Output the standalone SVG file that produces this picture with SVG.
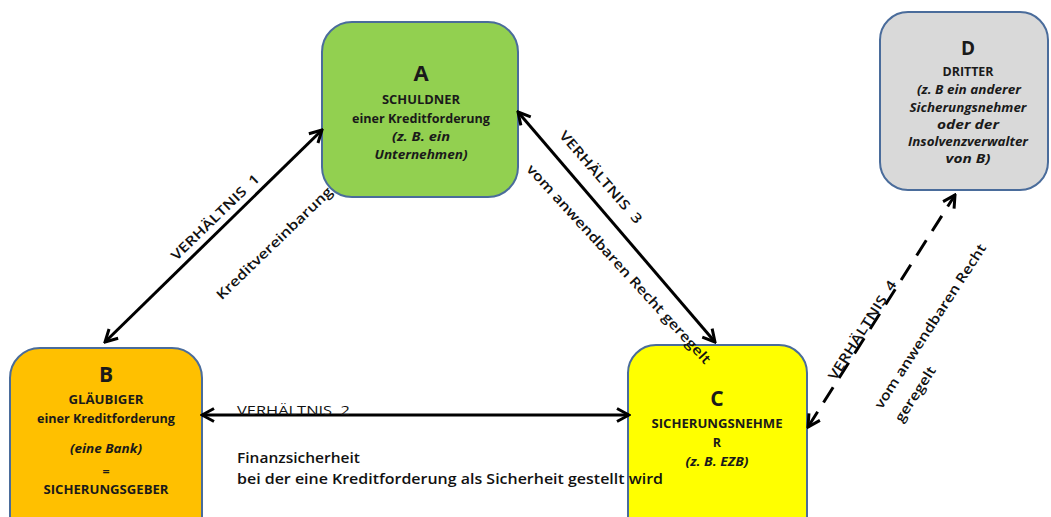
<svg xmlns="http://www.w3.org/2000/svg" width="1051" height="517" viewBox="0 0 1051 517">
<style>
.box{stroke:#4a6c9b;stroke-width:2}
.t{font-family:"Open Sans","Liberation Sans",sans-serif;font-weight:700;fill:#1a1a1a;text-anchor:middle}
.big{font-size:22px}
.s{font-size:12.5px}
.i{font-style:italic}
.conn{stroke:#000;stroke-width:3;fill:none}
.dash{stroke-dasharray:18 11}
.lbl{font-family:"Open Sans","Liberation Sans",sans-serif;fill:#111;font-size:13.5px}
.rl{font-weight:650;text-anchor:middle}
.hl{font-weight:600}
</style>
<defs>
<marker id="ah" viewBox="0 0 16 16" refX="14" refY="8" markerWidth="16" markerHeight="16" markerUnits="userSpaceOnUse" orient="auto-start-reverse">
<path d="M2,1.5 L14,8 L2,14.5" fill="none" stroke="#000" stroke-width="3"/>
</marker>
</defs>
<rect width="1051" height="517" fill="#fff"/>
<g id="nodeA">
<rect class="box" x="322" y="22" width="196" height="175" rx="30" fill="#92d050"/>
<text class="t big" x="421" y="81">A</text>
<text class="t s" x="421" y="104" textLength="78" lengthAdjust="spacingAndGlyphs">SCHULDNER</text>
<text class="t s" x="421" y="123" textLength="138" lengthAdjust="spacingAndGlyphs">einer Kreditforderung</text>
<text class="t s i" x="421" y="141" textLength="58" lengthAdjust="spacingAndGlyphs">(z. B. ein</text>
<text class="t s i" x="421" y="159" textLength="93" lengthAdjust="spacingAndGlyphs">Unternehmen)</text>
</g>
<g id="nodeD">
<rect class="box" x="880" y="12" width="168" height="178" rx="28" fill="#d9d9d9"/>
<text class="t" style="font-size:19px" x="968" y="55">D</text>
<text class="t s" x="968" y="76" textLength="51" lengthAdjust="spacingAndGlyphs">DRITTER</text>
<text class="t s i" x="969" y="94" textLength="104" lengthAdjust="spacingAndGlyphs">(z. B ein anderer</text>
<text class="t s i" x="968" y="112" textLength="117" lengthAdjust="spacingAndGlyphs">Sicherungsnehmer</text>
<text class="t s i" x="968" y="129" textLength="62" lengthAdjust="spacingAndGlyphs">oder der</text>
<text class="t s i" x="968" y="146" textLength="120" lengthAdjust="spacingAndGlyphs">Insolvenzverwalter</text>
<text class="t s i" x="968" y="163" textLength="45" lengthAdjust="spacingAndGlyphs">von B)</text>
</g>
<g id="nodeB">
<rect class="box" x="10" y="348" width="192" height="200" rx="30" fill="#ffc000"/>
<text class="t" style="font-size:21px" x="106" y="382">B</text>
<text class="t s" x="106" y="404" textLength="75" lengthAdjust="spacingAndGlyphs">GLÄUBIGER</text>
<text class="t s" x="106" y="423" textLength="138" lengthAdjust="spacingAndGlyphs">einer Kreditforderung</text>
<text class="t s i" x="106" y="453" textLength="72" lengthAdjust="spacingAndGlyphs">(eine Bank)</text>
<text class="t s" x="106" y="476">=</text>
<text class="t s" x="106" y="494" textLength="125" lengthAdjust="spacingAndGlyphs">SICHERUNGSGEBER</text>
</g>
<g id="nodeC">
<rect class="box" x="628" y="345" width="179" height="200" rx="28" fill="#ffff00"/>
<text class="t" style="font-size:21px" x="717" y="406">C</text>
<text class="t s" x="717" y="428" textLength="131" lengthAdjust="spacingAndGlyphs">SICHERUNGSNEHME</text>
<text class="t s" x="717" y="447">R</text>
<text class="t s i" x="717" y="466" textLength="63" lengthAdjust="spacingAndGlyphs">(z. B. EZB)</text>
</g>
<g id="connectors">
<line class="conn" x1="105" y1="342" x2="322" y2="130" marker-start="url(#ah)" marker-end="url(#ah)"/>
<line class="conn" x1="518" y1="112" x2="715" y2="342" marker-start="url(#ah)" marker-end="url(#ah)"/>
<line class="conn" x1="202" y1="415" x2="629" y2="415" marker-start="url(#ah)" marker-end="url(#ah)"/>
<line class="conn dash" x1="808" y1="427" x2="955" y2="195" marker-start="url(#ah)" marker-end="url(#ah)"/>
<text class="lbl rl" transform="translate(215,217) rotate(-44)" y="5" textLength="117" lengthAdjust="spacingAndGlyphs">VERHÄLTNIS&#160;&#160;1</text>
<text class="lbl rl" transform="translate(274,243) rotate(-44)" y="5" textLength="155" lengthAdjust="spacingAndGlyphs">Kreditvereinbarung</text>
<text class="lbl rl" transform="translate(601,177) rotate(49)" y="5" textLength="118" lengthAdjust="spacingAndGlyphs">VERHÄLTNIS&#160;&#160;3</text>
<text class="lbl rl" transform="translate(619,264) rotate(47.5)" y="5" textLength="265" lengthAdjust="spacingAndGlyphs">vom anwendbaren Recht geregelt</text>
<text class="lbl rl" transform="translate(862,330) rotate(-57.6)" y="5" textLength="115" lengthAdjust="spacingAndGlyphs">VERHÄLTNIS&#160;&#160;4</text>
<text class="lbl rl" transform="translate(930,326) rotate(-57)" y="5" textLength="193" lengthAdjust="spacingAndGlyphs">vom anwendbaren Recht</text>
<text class="lbl rl" transform="translate(915,394) rotate(-57)" y="5" textLength="63" lengthAdjust="spacingAndGlyphs">geregelt</text>
<text class="lbl" x="237" y="415" textLength="113" lengthAdjust="spacingAndGlyphs">VERHÄLTNIS&#160;&#160;2</text>
<text class="lbl hl" style="font-size:14.5px" x="237" y="463" textLength="123" lengthAdjust="spacingAndGlyphs">Finanzsicherheit</text>
<text class="lbl hl" style="font-size:14.5px" x="237" y="484" textLength="426" lengthAdjust="spacingAndGlyphs">bei der eine Kreditforderung als Sicherheit gestellt wird</text>
</g>
</svg>
